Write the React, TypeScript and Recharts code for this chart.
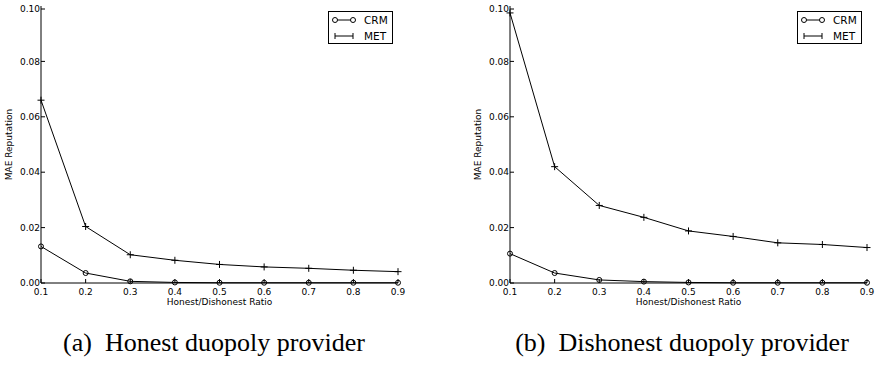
import { Legend, Line, LineChart, XAxis, YAxis } from 'recharts'

const RATIOS = [0.1, 0.2, 0.3, 0.4, 0.5, 0.6, 0.7, 0.8, 0.9]
const HONEST_CRM = [0.0132, 0.0036, 0.0006, 0.0002, 0.0001, 0.0001, 0.0001, 0.0001, 0.0001]
const HONEST_MET = [0.066, 0.0204, 0.0102, 0.0082, 0.0067, 0.0058, 0.0053, 0.0046, 0.0041]
const DISHONEST_CRM = [0.0106, 0.0036, 0.0011, 0.0005, 0.0002, 0.0001, 0.0001, 0.0001, 0.0001]
const DISHONEST_MET = [0.0975, 0.042, 0.028, 0.0237, 0.0188, 0.0168, 0.0145, 0.0139, 0.0128]
const X_TICKS = [0.1, 0.2, 0.3, 0.4, 0.5, 0.6, 0.7, 0.8, 0.9]
const Y_TICKS = [0, 0.02, 0.04, 0.06, 0.08, 0.1]
const SERIES = ['CRM', 'MET']

const FONT = '"DejaVu Sans", sans-serif'
const TICK_LEN = 4
const X_TICK_GAP = 6

const buildRows = (crm: number[], met: number[]) =>
  RATIOS.map((r, i) => ({ ratio: r, CRM: crm[i], MET: met[i] }))

function BottomTick({ x, y, payload }: any) {
  return (
    <g>
      <line x1={x} x2={x} y1={y - X_TICK_GAP} y2={y - X_TICK_GAP - TICK_LEN} stroke="#000" />
      <text x={x} y={y} dy="0.71em" textAnchor="middle" fontSize={9} fontFamily={FONT} fill="#000">
        {payload.value.toFixed(1)}
      </text>
    </g>
  )
}

function TopTick({ x, y }: any) {
  return <line x1={x} x2={x} y1={y} y2={y + TICK_LEN} stroke="#000" />
}

function LeftTick({ x, y, payload }: any) {
  return (
    <g>
      <line x1={x + 1} x2={x + 1 + TICK_LEN} y1={y} y2={y} stroke="#000" />
      <text x={x} y={y} dy="0.35em" textAnchor="end" fontSize={9} fontFamily={FONT} fill="#000">
        {payload.value.toFixed(2)}
      </text>
    </g>
  )
}

function RightTick({ x, y }: any) {
  return <line x1={x} x2={x - TICK_LEN} y1={y} y2={y} stroke="#000" />
}

function XLabel({ viewBox }: any) {
  return (
    <text
      x={viewBox.x + viewBox.width / 2}
      y={viewBox.y + 22}
      textAnchor="middle"
      fontSize={9}
      fontFamily={FONT}
      fill="#000"
    >
      Honest/Dishonest Ratio
    </text>
  )
}

function YLabel({ viewBox }: any) {
  const cx = 9
  const cy = viewBox.y + viewBox.height / 2
  return (
    <text
      x={cx}
      y={cy}
      transform={`rotate(-90 ${cx} ${cy})`}
      textAnchor="middle"
      dominantBaseline="central"
      fontSize={9}
      fontFamily={FONT}
      fill="#000"
    >
      MAE Reputation
    </text>
  )
}

function CircleDot({ cx, cy, index }: any) {
  return <circle key={index} cx={cx} cy={cy} r={2.5} fill="none" stroke="#000" strokeWidth={1} />
}

function PlusDot({ cx, cy, index }: any) {
  return (
    <path key={index} d={`M${cx - 3.5},${cy}H${cx + 3.5}M${cx},${cy - 3.5}V${cy + 3.5}`} stroke="#000" strokeWidth={1} />
  )
}

function LegendBox() {
  return (
    <div style={{ width: 63, height: 31, border: '1px solid #000', background: '#fff' }}>
      <svg width={63} height={31} style={{ display: 'block' }}>
        {SERIES.map((name, i) => {
          const cy = 8 + i * 16
          return (
            <g key={name}>
              <line x1={6} x2={24} y1={cy} y2={cy} stroke="#000" />
              {name === 'CRM' ? (
                <>
                  <circle cx={6} cy={cy} r={2.5} fill="#fff" stroke="#000" />
                  <circle cx={24} cy={cy} r={2.5} fill="#fff" stroke="#000" />
                </>
              ) : (
                <path d={`M6,${cy - 3}V${cy + 3}M24,${cy - 3}V${cy + 3}`} stroke="#000" />
              )}
              <text x={35} y={cy} dy="0.36em" fontSize={10.5} fontFamily={FONT} fill="#000">
                {name}
              </text>
            </g>
          )
        })}
      </svg>
    </div>
  )
}

function Panel({ crm, met }: { crm: number[]; met: number[] }) {
  return (
    <LineChart width={440} height={310} data={buildRows(crm, met)} margin={{ top: 6, right: 42, bottom: 0, left: 0 }}>
      <XAxis
        dataKey="ratio"
        type="number"
        domain={[0.1, 0.9]}
        ticks={X_TICKS}
        height={27}
        tickSize={0}
        tickMargin={X_TICK_GAP}
        tick={<BottomTick />}
        axisLine={{ stroke: '#000' }}
        label={<XLabel />}
      />
      <XAxis
        xAxisId="top"
        orientation="top"
        dataKey="ratio"
        type="number"
        domain={[0.1, 0.9]}
        ticks={X_TICKS}
        height={0}
        tickSize={0}
        tickMargin={0}
        tick={<TopTick />}
        axisLine={{ stroke: '#000' }}
      />
      <YAxis
        type="number"
        domain={[0, 0.1]}
        ticks={Y_TICKS}
        width={41}
        tickSize={0}
        tickMargin={1}
        tick={<LeftTick />}
        axisLine={{ stroke: '#000' }}
        label={<YLabel />}
      />
      <YAxis
        yAxisId="right"
        orientation="right"
        type="number"
        domain={[0, 0.1]}
        ticks={Y_TICKS}
        width={0}
        tickSize={0}
        tickMargin={0}
        tick={<RightTick />}
        axisLine={{ stroke: '#000' }}
      />
      <Line dataKey="CRM" stroke="#000" strokeWidth={1} dot={CircleDot} isAnimationActive={false} />
      <Line dataKey="MET" stroke="#000" strokeWidth={1} dot={PlusDot} isAnimationActive={false} />
      <Legend
        layout="vertical"
        align="center"
        verticalAlign="middle"
        content={<LegendBox />}
        wrapperStyle={{ top: 11, left: 328, width: 65, height: 33 }}
      />
    </LineChart>
  )
}

const captionStyle: React.CSSProperties = {
  position: 'absolute',
  top: 328,
  fontFamily: '"Liberation Serif", "Times New Roman", serif',
  fontSize: 26,
  lineHeight: '30px',
  color: '#000',
  textAlign: 'center',
  whiteSpace: 'pre',
}

export default function App() {
  return (
    <div style={{ position: 'absolute', left: 0, top: 0, width: 875, height: 368, background: '#fff' }}>
      <div style={{ position: 'absolute', left: 0, top: 0 }}>
        <Panel crm={HONEST_CRM} met={HONEST_MET} />
      </div>
      <div style={{ position: 'absolute', left: 469, top: 0 }}>
        <Panel crm={DISHONEST_CRM} met={DISHONEST_MET} />
      </div>
      <div style={{ ...captionStyle, left: 14, width: 400 }}>(a)  Honest duopoly provider</div>
      <div style={{ ...captionStyle, left: 482, width: 400 }}>(b)  Dishonest duopoly provider</div>
    </div>
  )
}
